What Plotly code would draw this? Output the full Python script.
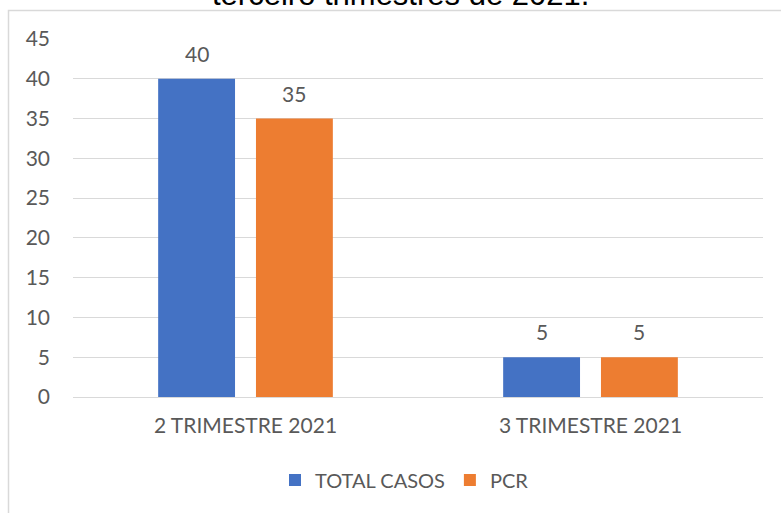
import plotly.graph_objects as go

categories = ["2 TRIMESTRE 2021", "3 TRIMESTRE 2021"]
total_casos = [40, 5]
pcr = [35, 5]
series_names = ["TOTAL CASOS", "PCR"]
title_text = "terceiro trimestres de 2021."
y_ticks = [0, 5, 10, 15, 20, 25, 30, 35, 40, 45]

BLUE = "#4472C4"
ORANGE = "#ED7D31"
GRAY_TXT = "#595959"
GRID = "#d9d9d9"
FONT = "Lato, Liberation Sans, Arial, sans-serif"

W, H = 781, 513
ML, MR, MT, MB = 73, 18, 39, 116
PW = W - ML - MR
PH = H - MT - MB

fig = go.Figure()
fig.add_trace(go.Bar(name=series_names[0], x=categories, y=total_casos,
                     marker=dict(color=BLUE, line=dict(width=0)), hoverinfo="skip"))
fig.add_trace(go.Bar(name=series_names[1], x=categories, y=pcr,
                     marker=dict(color=ORANGE, line=dict(width=0)), hoverinfo="skip"))

# data labels above bars
bargap = 0.433
slot = (1 - bargap) * (PW / len(categories)) / 2
annotations = []
for vals, shift in ((total_casos, -slot / 2), (pcr, slot / 2)):
    for c, v in zip(categories, vals):
        annotations.append(dict(x=c, y=v, xref="x", yref="y", text=str(v),
                                showarrow=False, xshift=shift, yshift=25.5,
                                yanchor="middle",
                                font=dict(family=FONT, size=21, color=GRAY_TXT)))

# clipped title at the top
title_cx = (400 - ML) / PW
title_bottom_px = 13.6
annotations.append(dict(x=title_cx, y=1 + (MT - title_bottom_px) / PH, xref="paper", yref="paper",
                        text=title_text, showarrow=False, xanchor="center", yanchor="bottom",
                        font=dict(family="Liberation Sans, Arial, sans-serif", size=31, color="#000000")))

# chart border (light gray)
shapes = [dict(type="rect", xref="paper", yref="paper",
               x0=(8.5 - ML) / PW, x1=1.2, y0=-0.6, y1=1 + (MT - 10.5) / PH,
               line=dict(color=GRID, width=1.5), fillcolor="rgba(0,0,0,0)", layer="below")]

fig.update_layout(
    width=W, height=H,
    margin=dict(l=ML, r=MR, t=MT, b=MB, pad=0),
    paper_bgcolor="white", plot_bgcolor="white",
    barmode="group", bargap=bargap, bargroupgap=0.214,
    font=dict(family=FONT, size=21, color=GRAY_TXT),
    showlegend=True,
    legend=dict(orientation="h", x=(404.5 - ML) / PW, xanchor="center",
                y=(MT + PH - 480) / PH, yanchor="middle",
                font=dict(family=FONT, size=20, color=GRAY_TXT),
                itemwidth=30, traceorder="normal"),
    annotations=annotations,
    shapes=shapes,
)
fig.update_xaxes(showgrid=False, showline=False, zeroline=False, ticks="",
                 tickfont=dict(family=FONT, size=21, color=GRAY_TXT),
                 ticklabelstandoff=14)
fig.update_yaxes(range=[0, 45], tickvals=y_ticks, showgrid=True, gridcolor=GRID, gridwidth=1,
                 zeroline=True, zerolinecolor=GRID, zerolinewidth=1, showline=False, ticks="",
                 tickfont=dict(family=FONT, size=21, color=GRAY_TXT),
                 ticklabelstandoff=22)

fig.write_html("out.html", config={"displayModeBar": False},
               post_script="document.body.style.margin='0';document.body.style.overflow='hidden';")
